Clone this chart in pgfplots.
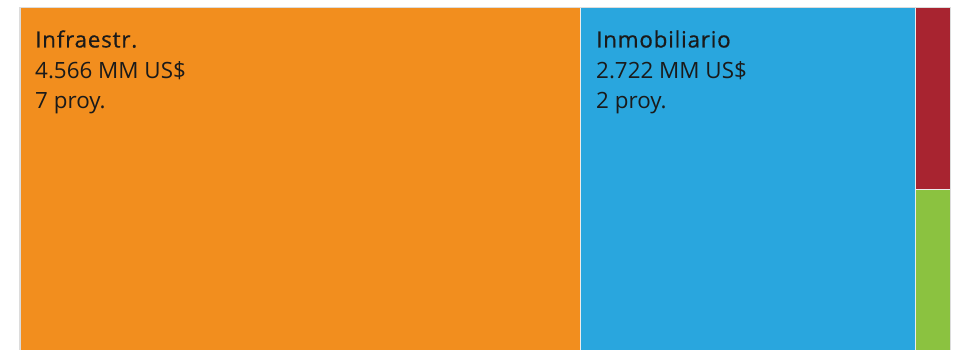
\documentclass[border=0pt]{standalone}
\usepackage{pgfplots}
\pgfplotsset{compat=1.18}
\usepackage{fontspec}
\setmainfont{Open Sans}
\newfontfamily\titlefont{Open Sans}[FakeBold=0.6, LetterSpace=3.5]
\definecolor{cOrange}{RGB}{242,142,30}
\definecolor{cBlue}{RGB}{41,166,222}
\definecolor{cRed}{RGB}{168,36,48}
\definecolor{cGreen}{RGB}{139,194,64}
\definecolor{cFrame}{RGB}{220,220,220}
\definecolor{cSep}{RGB}{236,236,236}
\definecolor{cText}{RGB}{26,26,26}
\begin{document}
\begin{tikzpicture}
\begin{axis}[
  width=958pt, height=350pt, scale only axis,
  xmin=0, xmax=958, ymin=0, ymax=350, y dir=reverse,
  hide axis, clip=true,
]
% background
\addplot[fill=white, draw=none] coordinates {(0,0) (958,0) (958,350) (0,350)} -- cycle;
% outer frame
\addplot[fill=cFrame, draw=none] coordinates {(19,7) (951,7) (951,350) (19,350)} -- cycle;
\addplot[fill=cSep, draw=none] coordinates {(20.5,8.5) (949.5,8.5) (949.5,350) (20.5,350)} -- cycle;
% tiles: Infraestr. 4566, Inmobiliario 2722, two small sectors
\addplot[fill=cOrange, draw=none] coordinates {(20.5,8.5) (579.5,8.5) (579.5,350) (20.5,350)} -- cycle;
\addplot[fill=cBlue, draw=none] coordinates {(581,8.5) (914.5,8.5) (914.5,350) (581,350)} -- cycle;
\addplot[fill=cRed, draw=none] coordinates {(916,8.5) (949.5,8.5) (949.5,188.5) (916,188.5)} -- cycle;
\addplot[fill=cGreen, draw=none] coordinates {(916,190) (949.5,190) (949.5,350) (916,350)} -- cycle;
% labels
\node[anchor=base west, inner sep=0pt, font=\titlefont\fontsize{22.4}{26}\selectfont, text=cText] at (axis cs:35,47.5) {Infraestr.};
\node[anchor=base west, inner sep=0pt, font=\fontsize{22.4}{26}\selectfont, text=cText] at (axis cs:35,78.3) {4.566 MM US\$};
\node[anchor=base west, inner sep=0pt, font=\fontsize{22.4}{26}\selectfont, text=cText] at (axis cs:35,109) {7 proy.};
\node[anchor=base west, inner sep=0pt, font=\titlefont\fontsize{22.4}{26}\selectfont, text=cText] at (axis cs:596,47.5) {Inmobiliario};
\node[anchor=base west, inner sep=0pt, font=\fontsize{22.4}{26}\selectfont, text=cText] at (axis cs:596,78.3) {2.722 MM US\$};
\node[anchor=base west, inner sep=0pt, font=\fontsize{22.4}{26}\selectfont, text=cText] at (axis cs:596,109) {2 proy.};
\end{axis}
\end{tikzpicture}
\end{document}
